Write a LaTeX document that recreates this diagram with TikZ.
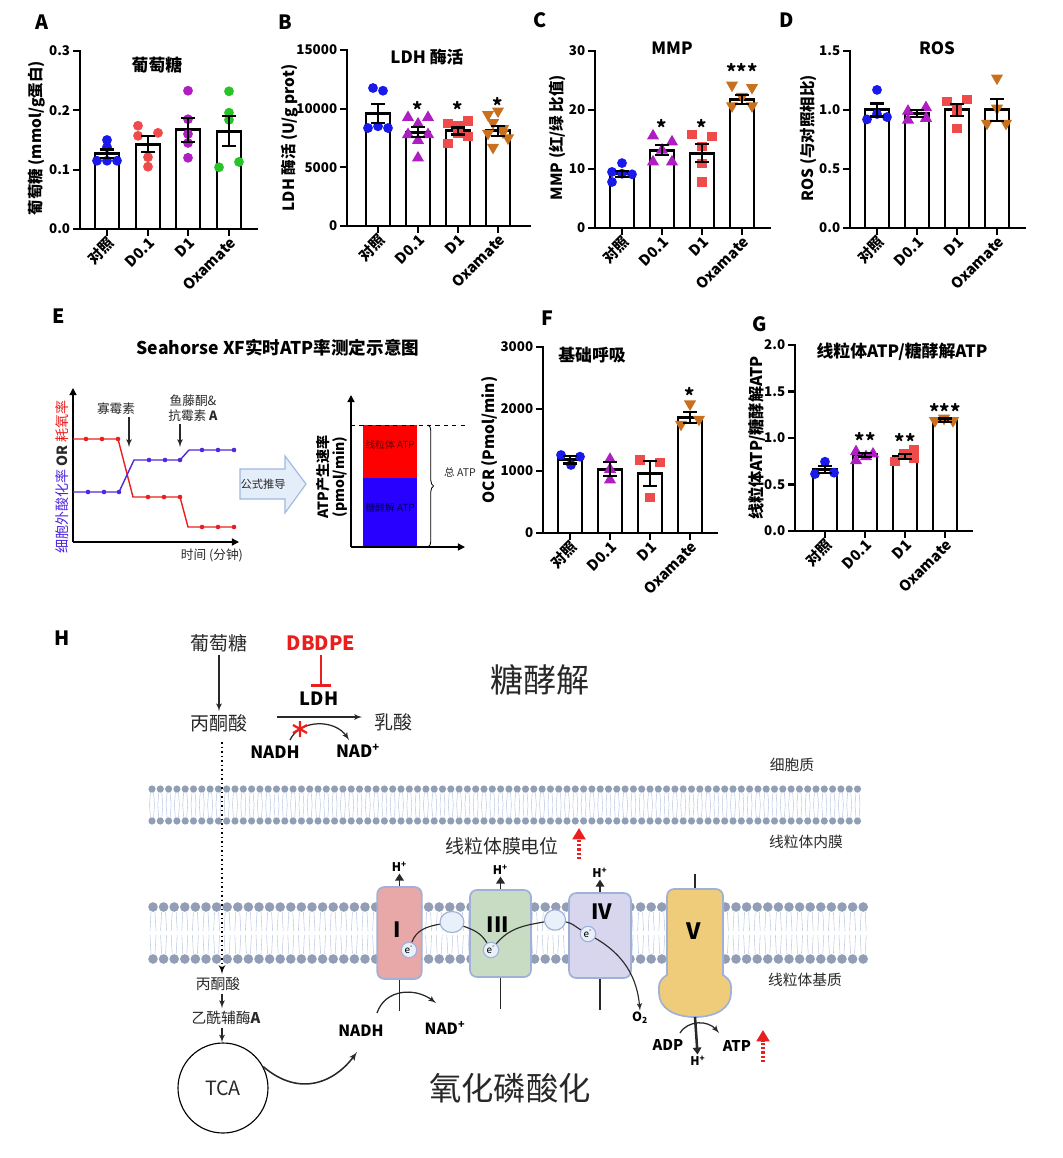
\documentclass[tikz,border=0pt]{standalone}
\usepackage{fontspec}
\setmainfont{Noto Sans CJK SC}
\usetikzlibrary{arrows}
\usetikzlibrary{arrows.meta}
\usetikzlibrary{positioning}
\usetikzlibrary{shapes.geometric}
\usetikzlibrary{decorations.pathreplacing}
\definecolor{cblue}{RGB}{25,25,235}
\definecolor{cred}{RGB}{240,75,75}
\definecolor{cmag}{RGB}{175,30,195}
\definecolor{cgreen}{RGB}{40,195,40}
\definecolor{cbrown}{RGB}{200,112,30}
\definecolor{eblue}{RGB}{80,40,220}
\definecolor{ered}{RGB}{235,30,30}
\definecolor{ebar}{RGB}{40,0,255}
\definecolor{arrfill}{RGB}{228,237,250}
\definecolor{arrline}{RGB}{160,185,220}
\definecolor{head}{RGB}{145,158,182}
\definecolor{tail}{RGB}{192,205,228}
\definecolor{cI}{RGB}{232,168,168}
\definecolor{cIII}{RGB}{200,220,196}
\definecolor{cIV}{RGB}{216,214,238}
\definecolor{cV}{RGB}{238,204,122}
\definecolor{cbord}{RGB}{160,176,214}
\definecolor{efill}{RGB}{232,240,250}
\definecolor{dgray}{RGB}{40,40,40}
\tikzset{axisln/.style = {line width=1.5pt, line cap=rect}}
\tikzset{barbox/.style = {draw, line width=2.1pt, fill=white}}
\tikzset{errln/.style = {line width=1.5pt}}
\tikzset{mb/.style = {fill=cblue, circle, inner sep=0, minimum size=7}}
\tikzset{mr/.style = {fill=cred, circle, inner sep=0, minimum size=7}}
\tikzset{mm/.style = {fill=cmag, circle, inner sep=0, minimum size=7}}
\tikzset{mg/.style = {fill=cgreen, circle, inner sep=0, minimum size=7}}
\tikzset{tm/.style = {fill=cmag, regular polygon, regular polygon sides=3, inner sep=0, minimum size=10}}
\tikzset{sr/.style = {fill=cred, rectangle, inner sep=0, minimum size=6.5}}
\tikzset{td/.style = {fill=cbrown, regular polygon, regular polygon sides=3, shape border rotate=180, inner sep=0, minimum size=10}}
\tikzset{ticklbl/.style = {font=\bfseries\fontsize{9.5}{11}\selectfont, inner sep=2pt}}
\tikzset{xlbl/.style = {font=\bfseries\fontsize{10.5}{12}\selectfont, xshift=3pt, yshift=-8pt, rotate=45, anchor=east, inner sep=0pt}}
\tikzset{ylbl/.style = {font=\bfseries\fontsize{11}{13}\selectfont, rotate=90, inner sep=1pt}}
\tikzset{ttl/.style = {font=\bfseries\fontsize{12}{14}\selectfont}}
\tikzset{sig/.style = {font=\bfseries\fontsize{14}{14}\selectfont, inner sep=0pt}}
\tikzset{plbl/.style = {font=\bfseries\fontsize{14}{16}\selectfont}}
\tikzset{etxt/.style = {font=\fontsize{9}{10}\selectfont, inner sep=1pt, text=dgray}}
\tikzset{eax/.style = {line width=1pt, -{Triangle[width=5pt,length=5pt]}}}
\tikzset{arr/.style = {-latex', line width=0.9pt, draw=dgray}}
\tikzset{harr/.style = {-{Triangle[width=6pt,length=5pt]}, line width=1.4pt, draw=dgray}}
\tikzset{redup/.style = {draw=ered, line width=2.2pt, dash pattern=on 1.6pt off 1.4pt, -{Triangle[width=9pt,length=8pt]}}}
\tikzset{inh/.style = {draw=ered, line width=2pt, -{Bar[width=14pt]}}}
\tikzset{cbox/.style = {draw=cbord, line width=1.2pt, rounded corners=5pt}}
\tikzset{eln/.style = {circle, draw=cbord, fill=efill, line width=0.8pt, inner sep=0, minimum size=11, font=\fontsize{7}{7}\selectfont}}
\tikzset{qel/.style = {ellipse, draw=cbord, fill=efill, line width=0.8pt, inner sep=0}}
\tikzset{eline/.style = {line width=0.8pt, draw=dgray}}
\tikzset{stem/.style = {line width=1.3pt, draw=dgray}}
\tikzset{cnum/.style = {font=\bfseries\fontsize{15}{16}\selectfont, inner sep=0pt}}
\tikzset{hlbl/.style = {font=\bfseries\fontsize{8.5}{9}\selectfont, inner sep=1pt}}
\tikzset{btxt/.style = {font=\bfseries\fontsize{11}{12}\selectfont, inner sep=1pt}}
\tikzset{ctxt/.style = {font=\fontsize{13.5}{15}\selectfont, inner sep=2pt, text=dgray}}
\tikzset{mtxt/.style = {font=\fontsize{10.5}{12}\selectfont, inner sep=2pt, text=dgray}}

\begin{document}
\begin{tikzpicture}[x=0.025cm, y=-0.025cm]
\useasboundingbox (0,0) rectangle (1063,1158);

% ---- A
\node[plbl] (lA) at (42,22) {A};
\begin{scope}[shift={(80,229)}, y=14.833cm]
  \draw[axisln] (0,0.3) -- (0,0) -- (177,0);
  \foreach \v in {0.0,0.1,0.2,0.3}
    \draw[axisln] (0,\v) -- (-6,\v) node[ticklbl, left] {\v};
  \foreach \x/\v in {27/0.127, 68/0.143, 108/0.167, 149/0.165}
    \draw[barbox] (\x-12,0) rectangle (\x+12,\v);
  \foreach \s/\x/\v in {mb/27/0.150, mb/27/0.138, mb/17/0.115, mb/27/0.115, mb/37/0.115,
                         mr/58/0.174, mr/78/0.162, mr/58/0.157, mr/68/0.121, mr/68/0.105,
                         mm/108/0.233, mm/108/0.185, mm/108/0.160, mm/108/0.145, mm/108/0.120,
                         mg/149/0.232, mg/149/0.196, mg/149/0.184, mg/139/0.104, mg/159/0.113}
    \node[\s] at (\x,\v) {};
  \foreach \x/\v/\e in {27/0.127/0.007, 68/0.143/0.013, 108/0.167/0.02, 149/0.165/0.025}
    \draw[errln] (\x,\v-\e) -- (\x,\v+\e) (\x-7,\v+\e) -- (\x+7,\v+\e) (\x-7,\v-\e) -- (\x+7,\v-\e);
  \foreach \x/\t in {27/对照, 68/D0.1, 108/D1, 149/Oxamate} {
    \draw[axisln] (\x,0) -- ++(0,-4pt);
    \node[xlbl] at (\x,0) {\t};
  }
  \node[ttl] (tA) at (77,0.276) {葡萄糖};
  \node[ylbl] (yA) at (-43,0.153) {葡萄糖 (mmol/g蛋白)};
\end{scope}

% ---- B
\node[plbl] (lB) at (285,22) {B};
\begin{scope}[shift={(347,226)}, y=0.29325cm]
  \draw[axisln] (0,15) -- (0,0) -- (183,0);
  \foreach \v/\t in {0/0, 5/5000, 10/10000, 15/15000}
    \draw[axisln] (0,\v) -- (-6,\v) node[ticklbl, left] {\t};
  \foreach \x/\v in {31/9.6, 71/8.0, 111/8.1, 151/8.1}
    \draw[barbox] (\x-12,0) rectangle (\x+12,\v);
  \foreach \s/\x/\v in {mb/26/11.76, mb/36/11.53, mb/21/8.35, mb/31/8.5, mb/41/8.35,
                         tm/61/9.25, tm/81/9.25, tm/71/8.7, tm/61/7.8, tm/81/7.8, tm/71/7.3, tm/71/5.8,
                         sr/101/8.75, sr/111/8.6, sr/121/8.95, sr/101/7.05, sr/111/7.9, sr/121/7.6, sr/111/8.3,
                         td/141/9.5, td/151/9.8, td/146/8.8, td/156/8.3, td/141/7.9, td/161/7.5, td/146/6.7, td/156/8.0}
    \node[\s] at (\x,\v) {};
  \foreach \x/\v/\e in {31/9.6/0.8, 71/8.0/0.45, 111/8.1/0.3, 151/8.1/0.45}
    \draw[errln] (\x,\v-\e) -- (\x,\v+\e) (\x-7,\v+\e) -- (\x+7,\v+\e) (\x-7,\v-\e) -- (\x+7,\v-\e);
  \foreach \x/\t in {31/对照, 71/D0.1, 111/D1, 151/Oxamate} {
    \draw[axisln] (\x,0) -- ++(0,-4pt);
    \node[xlbl] at (\x,0) {\t};
  }
  \foreach \x/\v in {71/9.89, 111/9.89, 151/10.23}
    \node[sig] at (\x,\v) {*};
  \node[ttl] (tB) at (80,14.4) {LDH 酶活};
  \node[ylbl] (yB) at (-57,7.5) {LDH 酶活 (U/g prot)};
\end{scope}

% ---- C
\node[plbl] (lC) at (540,20) {C};
\begin{scope}[shift={(595,228)}, y=0.1475cm]
  \draw[axisln] (0,30) -- (0,0) -- (175,0);
  \foreach \v in {0,10,20,30}
    \draw[axisln] (0,\v) -- (-6,\v) node[ticklbl, left] {\v};
  \foreach \x/\v in {27/9.2, 67/13.2, 107/12.7, 147/21.8}
    \draw[barbox] (\x-12,0) rectangle (\x+12,\v);
  \foreach \s/\x/\v in {mb/27/11.0, mb/17/9.5, mb/27/9.2, mb/37/9.1, mb/17/7.8,
                         tm/58/15.6, tm/77/14.6, tm/67/13.2, tm/58/11.2, tm/77/11.2,
                         sr/97/15.8, sr/117/15.5, sr/107/13.8, sr/107/11.0, sr/107/7.8,
                         td/137/24.2, td/157/23.8, td/147/22.3, td/137/20.7, td/157/20.7}
    \node[\s] at (\x,\v) {};
  \foreach \x/\v/\e in {27/9.2/0.5, 67/13.2/0.9, 107/12.7/1.5, 147/21.8/0.8}
    \draw[errln] (\x,\v-\e) -- (\x,\v+\e) (\x-7,\v+\e) -- (\x+7,\v+\e) (\x-7,\v-\e) -- (\x+7,\v-\e);
  \foreach \x/\t in {27/对照, 67/D0.1, 107/D1, 147/Oxamate} {
    \draw[axisln] (\x,0) -- ++(0,-4pt);
    \node[xlbl] at (\x,0) {\t};
  }
  \foreach \x/\v/\t in {67/17.1/*, 107/17.1/*, 147/26.6/***}
    \node[sig] at (\x,\v) {\t};
  \node[ttl] (tC) at (77,30.5) {MMP};
  \node[ylbl] (yC) at (-38,15.3) {MMP (红/绿 比值)};
\end{scope}

% ---- D
\node[plbl] (lD) at (787,20) {D};
\begin{scope}[shift={(850,228)}, y=2.95cm]
  \draw[axisln] (0,1.5) -- (0,0) -- (175,0);
  \foreach \v in {0.0,0.5,1.0,1.5}
    \draw[axisln] (0,\v) -- (-6,\v) node[ticklbl, left] {\v};
  \foreach \x/\v in {27/1.0, 67/0.97, 107/1.0, 147/1.0}
    \draw[barbox] (\x-12,0) rectangle (\x+12,\v);
  \foreach \s/\x/\v in {mb/27/1.17, mb/17/0.92, mb/27/0.966, mb/37/0.94,
                         tm/58/0.99, tm/76/1.02, tm/58/0.915, tm/76/0.93,
                         sr/97/1.07, sr/117/1.09, sr/107/1.0, sr/107/0.845,
                         td/147/1.27, td/147/1.015, td/137/0.887, td/156/0.887}
    \node[\s] at (\x,\v) {};
  \foreach \x/\v/\e in {27/1.0/0.055, 67/0.97/0.03, 107/1.0/0.05, 147/1.0/0.09}
    \draw[errln] (\x,\v-\e) -- (\x,\v+\e) (\x-7,\v+\e) -- (\x+7,\v+\e) (\x-7,\v-\e) -- (\x+7,\v-\e);
  \foreach \x/\t in {27/对照, 67/D0.1, 107/D1, 147/Oxamate} {
    \draw[axisln] (\x,0) -- ++(0,-4pt);
    \node[xlbl] at (\x,0) {\t};
  }
  \node[ttl] (tD) at (87,1.525) {ROS};
  \node[ylbl] (yD) at (-42,0.76) {ROS (与对照相比)};
\end{scope}

% ---- E
\node[plbl] (lE) at (59,316) {E};
\node[ttl, font=\bfseries\fontsize{12.5}{14}\selectfont] (tE) at (278,348) {Seahorse XF实时ATP率测定示意图};
\draw[eax] (73,542) -- (73,388);
\draw[eax] (73,542) -- (239,542);
\draw[ered, line width=1pt] (73,439) -- (118,439) -- (133,497) -- (180,497) -- (188,527) -- (234,527);
\draw[eblue, line width=1pt] (73,492) -- (119,492) -- (134,460) -- (180,460) -- (189,450) -- (234,450);
\foreach \x/\y in {86/439, 102/439, 118/439, 148/497, 164/497, 180/497, 202/527, 218/527, 234/527}
  \fill[ered] (\x,\y) circle (2.3);
\foreach \x/\y in {88/492, 104/492, 119/492, 149/460, 165/460, 180/460, 202/450, 218/450, 234/450}
  \fill[eblue] (\x,\y) circle (2.3);
\node[etxt] (oli) at (116,409) {寡霉素};
\node[etxt] (rot) at (193,401) {鱼藤酮\&};
\node[etxt, below=0pt of rot] (ant) {抗霉素 \textbf{A}};
\coordinate (oliT) at (129,447);
\coordinate (antT) at (180,447);
\draw[arr] (oli.south -| oliT) -- (oliT);
\draw[arr] (ant.south -| antT) -- (antT);
\node[etxt] (tmin) at (212,555) {时间 (分钟)};
\node[etxt, font=\fontsize{10}{11}\selectfont, rotate=90] (eyl) at (62,477)
  {{\color{eblue}细胞外酸化率} \textbf{OR} {\color{ered}耗氧率}};
\draw[fill=arrfill, draw=arrline, line width=0.8pt] (240,469) -- (285,469) -- (285,456) -- (306,484) -- (285,513) -- (285,499) -- (240,499) -- cycle;
\node[etxt, font=\fontsize{8}{9}\selectfont] (fml) at (263,484) {公式推导};
\fill[red] (363,425) rectangle (417,478);
\fill[ebar] (363,478) rectangle (417,547);
\draw[eax] (351,547) -- (351,395);
\draw[eax] (351,547) -- (465,547);
\draw[dashed, line width=0.6pt] (351,425) -- (465,425);
\node[font=\fontsize{7}{8}\selectfont, text=red!40!black, inner sep=0pt] (mito) at (390,445) {线粒体 ATP};
\node[font=\fontsize{7}{8}\selectfont, text=blue!30!black, inner sep=0pt] (glyc) at (390,508) {糖酵解 ATP};
\draw[decorate, decoration={brace, amplitude=4pt}, line width=0.6pt] (428,425) -- (428,547);
\node[etxt, font=\fontsize{7.5}{8}\selectfont] (tot) at (460,472) {总 ATP};
\node[font=\bfseries\fontsize{10}{11}\selectfont, rotate=90, inner sep=0pt] (ryl) at (323,477) {ATP产生速率};
\node[font=\bfseries\fontsize{10}{11}\selectfont, rotate=90, inner sep=0pt] (ryu) at (340,477) {(pmol/min)};

% ---- F
\node[plbl] (lF) at (547,318) {F};
\begin{scope}[shift={(543,533)}, y=1.55cm]
  \draw[axisln] (0,3) -- (0,0) -- (174,0);
  \foreach \v/\t in {0/0, 1/1000, 2/2000, 3/3000}
    \draw[axisln] (0,\v) -- (-6,\v) node[ticklbl, left] {\t};
  \foreach \x/\v in {27/1.18, 67/1.03, 107/0.96, 147/1.86}
    \draw[barbox] (\x-12,0) rectangle (\x+12,\v);
  \foreach \s/\x/\v in {mb/18/1.258, mb/37/1.231, mb/28/1.097,
                         tm/67/1.188, tm/67/1.027, tm/67/0.855,
                         sr/97/1.177, sr/117/1.134, sr/107/0.576,
                         td/147/2.08, td/138/1.753, td/156/1.834}
    \node[\s] at (\x,\v) {};
  \foreach \x/\v/\e in {27/1.18/0.06, 67/1.03/0.11, 107/0.96/0.2, 147/1.86/0.09}
    \draw[errln] (\x,\v-\e) -- (\x,\v+\e) (\x-7,\v+\e) -- (\x+7,\v+\e) (\x-7,\v-\e) -- (\x+7,\v-\e);
  \foreach \x/\t in {27/对照, 67/D0.1, 107/D1, 147/Oxamate} {
    \draw[axisln] (\x,0) -- ++(0,-4pt);
    \node[xlbl] at (\x,0) {\t};
  }
  \node[sig] at (147,2.21) {*};
  \node[ttl] (tF) at (49,2.87) {基础呼吸};
  \node[ylbl] (yF) at (-53,1.5) {OCR (Pmol/min)};
\end{scope}

% ---- G
\node[plbl] (lG) at (760,324) {G};
\begin{scope}[shift={(795,531)}, y=2.325cm]
  \draw[axisln] (0,2) -- (0,0) -- (177,0);
  \foreach \v in {0.0,0.5,1.0,1.5,2.0}
    \draw[axisln] (0,\v) -- (-6,\v) node[ticklbl, left] {\v};
  \foreach \x/\v in {30/0.66, 70/0.82, 110/0.80, 150/1.19}
    \draw[barbox] (\x-12,0) rectangle (\x+12,\v);
  \foreach \s/\x/\v in {mb/30/0.745, mb/20/0.613, mb/39/0.627,
                         tm/61/0.853, tm/61/0.756, tm/71/0.80, tm/78/0.828,
                         sr/100/0.745, sr/109/0.828, sr/119/0.871, sr/119/0.782,
                         td/140/1.186, td/149/1.212, td/158/1.186}
    \node[\s] at (\x,\v) {};
  \foreach \x/\v/\e in {30/0.66/0.04, 70/0.82/0.02, 110/0.80/0.03, 150/1.19/0.02}
    \draw[errln] (\x,\v-\e) -- (\x,\v+\e) (\x-7,\v+\e) -- (\x+7,\v+\e) (\x-7,\v-\e) -- (\x+7,\v-\e);
  \foreach \x/\t in {30/对照, 70/D0.1, 110/D1, 150/Oxamate} {
    \draw[axisln] (\x,0) -- ++(0,-4pt);
    \node[xlbl] at (\x,0) {\t};
  }
  \foreach \x/\v/\t in {70/0.968/**, 110/0.96/**, 150/1.29/***}
    \node[sig] at (\x,\v) {\t};
  \node[ttl] (tG) at (107,1.925) {线粒体ATP/糖酵解ATP};
  \node[ylbl, font=\bfseries\fontsize{11.5}{13}\selectfont] (yG) at (-38,1.0) {线粒体ATP/糖酵解ATP};
\end{scope}

% ---- H: membranes
\foreach \x in {152,160.3,...,864} {
  \draw[tail, line width=0.4pt] (\x-1.5,792) -- (\x-2.5,805) (\x+1.5,792) -- (\x+2.5,805)
                                (\x-1.5,818) -- (\x-2.5,805) (\x+1.5,818) -- (\x+2.5,805);
  \fill[head] (\x,789) circle (3.6) (\x,821) circle (3.6);
}
\foreach \x in {153,163.6,...,864} {
  \draw[tail, line width=0.4pt] (\x-2,912) -- (\x-3,931) (\x+2,912) -- (\x+3,931)
                                (\x-2,954) -- (\x-3,935) (\x+2,954) -- (\x+3,935);
  \fill[head] (\x,907) circle (4.8) (\x,959) circle (4.8);
}

% ---- H: glycolysis
\node[plbl] (lH) at (62,638) {H};
\node[ctxt] (glc) at (219,643) {葡萄糖};
\node[ctxt] (pyr) at (219,723) {丙酮酸};
\draw[arr] (glc) -- (pyr);
\node[font=\bfseries\fontsize{14}{16}\selectfont, text=ered] (dbd) at (321,643) {DBDPE};
\node[font=\bfseries\fontsize{13}{15}\selectfont] (ldh) at (319,699) {LDH};
\draw[inh] (dbd.south) -- (dbd.south |- ldh.north);
\node[ctxt] (lac) at (393,722) {乳酸};
\coordinate (ld0) at (277,717);
\coordinate (ld1) at (362,717);
\draw[arr] (ld0) -- (ld1);
\node[btxt, font=\bfseries\fontsize{12}{13}\selectfont] (nadh) at (275,752) {NADH};
\node[btxt, font=\bfseries\fontsize{12}{13}\selectfont] (nad) at (358,751) {NAD\textsuperscript{+}};
\draw[arr] ([shift={(15,-12)}]nadh.center) .. controls (300,719) and (335,719) .. ([shift={(-9,-11)}]nad.center);
\draw[ered, line width=1.6pt] (300,721) -- (300,737) (293,725) -- (307,733) (293,733) -- (307,725);
\node[font=\fontsize{23.5}{26}\selectfont, text=dgray] (gly) at (540,680) {糖酵解};

% ---- H: labels between membranes
\node[mtxt] (cyt) at (792,765) {细胞质};
\node[mtxt] (imm) at (806,842) {线粒体内膜};
\node[mtxt] (mtx) at (805,980) {线粒体基质};
\node[ctxt] (mmp) at (502,846) {线粒体膜电位};
\coordinate (mp0) at (579,859);
\draw[redup] (mp0) -- ++(0,-31);

% ---- H: pyruvate to TCA
\node[mtxt] (pyr2) at (218,984) {丙酮酸};
\node[mtxt] (acoa) at (226,1018) {乙酰辅酶\textbf{A}};
\node[circle, draw, line width=0.8pt, minimum size=64pt, font=\fontsize{14}{16}\selectfont, text=dgray] (tca) at (223,1088) {TCA};
\coordinate (dtop) at (222,742);
\draw[dotted, line width=1.2pt, -latex'] (dtop) -- (dtop |- pyr2.north);
\draw[arr] (pyr2.south -| dtop) -- (acoa.north -| dtop);
\draw[arr] (acoa.south -| dtop) -- (tca.north -| dtop);

% ---- H: electron transport chain
\node[cbox, fill=cI, minimum width=31.6pt, minimum height=65.4pt] (cI) at (399.5,933) {};
\node[cbox, fill=cIII, minimum width=43.4pt, minimum height=61.9pt] (cIII) at (500.5,933.5) {};
\node[cbox, fill=cIV, minimum width=44pt, minimum height=60.4pt] (cIV) at (600,935.5) {};
\node[cnum] at (397,930) {I};
\node[cnum] at (498,925) {III};
\node[cnum] at (602,912) {IV};
\node[qel, minimum width=17pt, minimum height=15pt] (q1) at (452,922) {};
\node[qel, minimum width=15pt, minimum height=14.5pt] (q2) at (555,920) {};
\node[eln] (e1) at (409,950) {e\textsuperscript{-}};
\node[eln] (e3) at (491,950) {e\textsuperscript{-}};
\node[eln] (e4) at (588,934) {e\textsuperscript{-}};
\draw[eline] (e1) to[out=70, in=190] (q1);
\draw[eline] (q1) to[out=-20, in=120] (e3);
\draw[eline] (e3) to[out=50, in=190] (q2);
\draw[eline] (q2) to[out=-10, in=150] (e4);
\node[btxt, font=\bfseries\fontsize{9}{10}\selectfont] (o2) at (640,1018) {O\textsubscript{2}};
\draw[eline, -latex'] (e4) to[out=-30, in=95] (o2.north);
\foreach \c in {cI, cIII, cIV} {
  \node[hlbl, above=9pt of \c] (h\c) {H\textsuperscript{+}};
  \draw[harr] (\c) -- (h\c);
  \draw[stem] (\c.south) -- ++(0,31);
}
\node[btxt] (nadh2) at (361,1031) {NADH};
\node[btxt] (nad2) at (445,1028) {NAD\textsuperscript{+}};
\draw[arr] ([shift={(16,-18)}]nadh2.center) .. controls (385,989) and (415,987) .. ([shift={(-9,-25)}]nad2.center);
\coordinate (tcaend) at (357,1052);
\draw[arr, line width=1.1pt] (tca.28) .. controls (300,1098) and (335,1082) .. (tcaend);

% ---- H: ATP synthase
\draw[stem] (695,874) -- (695,890);
\draw[draw=cbord, line width=1.2pt, fill=cV] (667,975) [rounded corners=5pt] -- (667,889) -- (723,889) [sharp corners] -- (723,975)
  .. controls (733,981) and (731,988) .. (731,993) .. controls (731,1008) and (716,1017) .. (695,1017)
  .. controls (674,1017) and (659,1008) .. (659,993) .. controls (659,988) and (657,981) .. (667,975) -- cycle;
\node[cnum, font=\bfseries\fontsize{16}{17}\selectfont] (vlab) at (694,931) {V};
\coordinate (vbot) at (695,1017);
\node[hlbl] (hV) at (698,1061) {H\textsuperscript{+}};
\draw[harr, line width=1.8pt] (vbot) -- (hV);
\node[btxt, font=\bfseries\fontsize{10.5}{12}\selectfont] (adp) at (668,1045) {ADP};
\node[btxt, font=\bfseries\fontsize{10.5}{12}\selectfont] (atp) at (737,1046) {ATP};
\draw[arr] ([shift={(12,-12)}]adp.center) .. controls (688,1020) and (708,1020) .. ([shift={(-18,-13)}]atp.center);
\coordinate (at0) at (763,1062);
\draw[redup] (at0) -- ++(0,-32);
\node[font=\fontsize{23}{26}\selectfont, text=dgray] (oxp) at (510,1088) {氧化磷酸化};
\end{tikzpicture}
\end{document}
